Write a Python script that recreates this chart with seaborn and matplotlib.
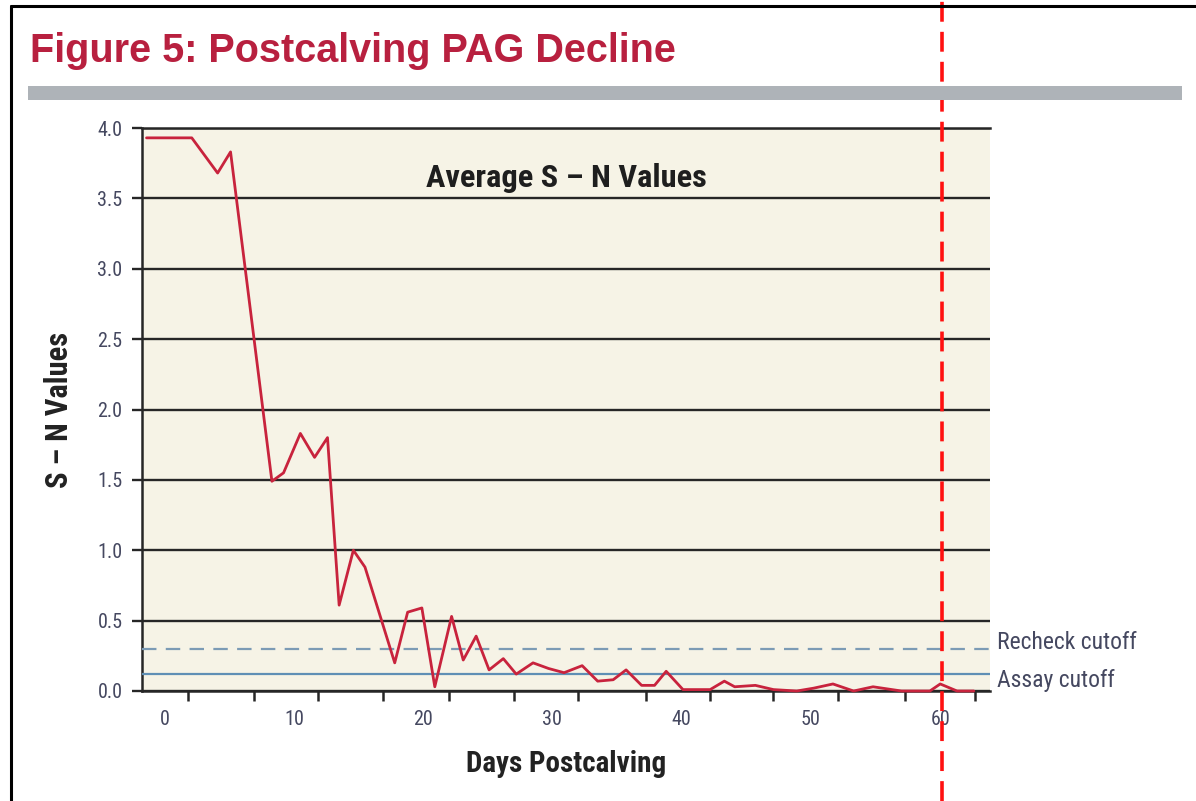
import matplotlib
matplotlib.use("Agg")
import matplotlib.pyplot as plt
import matplotlib.transforms as mtransforms
from matplotlib.lines import Line2D
from matplotlib.patches import Rectangle
from matplotlib import font_manager
import seaborn as sns
import pandas as pd

# ---------------- data ----------------
days = [-1.4, 2.1, 4.1, 5.1, 8.3, 9.2, 10.5, 11.6, 12.6, 13.5, 14.6, 15.5,
        17.8, 18.8, 19.9, 20.9, 22.2, 23.1, 24.1, 25.1, 26.2, 27.2, 28.5,
        29.7, 30.9, 32.3, 33.5, 34.7, 35.7, 36.9, 37.9, 38.8, 40.1, 42.2,
        43.3, 44.1, 45.7, 47.1, 48.9, 50.2, 51.7, 53.3, 54.8, 57.0, 59.2,
        60.0, 61.3, 62.6]
sn_values = [3.93, 3.93, 3.68, 3.83, 1.49, 1.55, 1.83, 1.66, 1.80, 0.61, 1.00,
             0.88, 0.20, 0.56, 0.59, 0.03, 0.53, 0.22, 0.39, 0.15, 0.23, 0.12,
             0.20, 0.16, 0.13, 0.18, 0.07, 0.08, 0.15, 0.04, 0.04, 0.14, 0.01,
             0.01, 0.07, 0.03, 0.04, 0.01, 0.00, 0.02, 0.05, 0.00, 0.03, 0.00,
             0.00, 0.05, 0.00, 0.00]
recheck_cutoff = 0.30
assay_cutoff = 0.12
marker_day = 60.1
x_label_ticks = [0, 10, 20, 30, 40, 50, 60]
x_mark_ticks = [1.8, 6.9, 11.9, 16.9, 22.0, 27.0, 32.0, 37.2, 42.2, 47.1,
                52.1, 57.3, 62.7]
y_ticks = [0.0, 0.5, 1.0, 1.5, 2.0, 2.5, 3.0, 3.5, 4.0]
y_tick_labels = ["0.0", "0.5", "1.0", "1.5", "2.0", "2.5", "3.0", "3.5", "4.0"]

title = "Figure 5: Postcalving PAG Decline"
inner_title = "Average S – N Values"
x_title = "Days Postcalving"
y_title = "S – N Values"

df = pd.DataFrame({"day": days, "sn": sn_values})

# ---------------- style ----------------
sns.set_theme(style="white")
installed = {f.name for f in font_manager.fontManager.ttflist}
narrow_pref = ["Roboto Condensed", "Liberation Sans Narrow", "Open Sans Condensed",
               "DejaVu Sans Condensed"]
narrow_found = [f for f in narrow_pref if f in installed]
HAS_NARROW = len(narrow_found) > 0
NARROW = (narrow_found[:1] if HAS_NARROW else []) + ["Liberation Sans", "DejaVu Sans"]
k = 1.0 if HAS_NARROW else 0.88   # shrink wide fallback to keep text widths
plt.rcParams["font.family"] = ["Liberation Sans", "DejaVu Sans"]

W, H = 1196, 801
fig = plt.figure(figsize=(W / 100, H / 100), dpi=100)
fig.patch.set_facecolor("white")

L, R, T, B = 142, 990, 128, 691
ax = fig.add_axes([L / W, (H - B) / H, (R - L) / W, (B - T) / H])
ax.set_facecolor("#f6f3e6")

grid_col = "#262626"
sns.lineplot(data=df, x="day", y="sn", ax=ax, color="#c8233d", linewidth=2.0,
             zorder=4, clip_on=False)

ax.axhline(recheck_cutoff, color="#7c9bb5", linewidth=1.6,
           dashes=(6.5, 4.2), zorder=3)
ax.axhline(assay_cutoff, color="#5f8fb5", linewidth=1.6, zorder=3)

ax.set_xlim(-1.75, 63.85)
ax.set_ylim(0, 4.0)

ax.set_yticks(y_ticks)
ax.set_yticklabels(y_tick_labels, family=NARROW, fontsize=14.5 * k, color="#454860")
ax.yaxis.grid(True, color=grid_col, linewidth=1.7)
ax.set_axisbelow(True)
ax.tick_params(axis="y", which="major", left=True, length=7, width=1.7,
               color=grid_col, pad=7)

ax.set_xticks(x_label_ticks)
ax.set_xticklabels([str(v) for v in x_label_ticks], family=NARROW,
                   fontsize=14.5 * k, color="#454860")
ax.tick_params(axis="x", which="major", bottom=True, length=0, pad=14)
ax.set_xticks(x_mark_ticks, minor=True)
ax.tick_params(axis="x", which="minor", bottom=True, length=7, width=1.8,
               color=grid_col)

ax.spines["right"].set_visible(False)
for s in ["left", "bottom", "top"]:
    ax.spines[s].set_visible(True)
    ax.spines[s].set_color(grid_col)
    ax.spines[s].set_linewidth(1.8)

ax.set_xlabel(x_title, family=NARROW, fontsize=21 * k, fontweight="bold",
              color="#222222", labelpad=15)
ax.set_ylabel(y_title, family=NARROW, fontsize=22 * k, fontweight="bold",
              color="#222222", labelpad=17)

ax.text(0.50, 0.911, inner_title, transform=ax.transAxes, ha="center",
        va="center", family=NARROW, fontsize=23.3 * k, fontweight="bold",
        color="#1e1e1e")

# cutoff labels to the right
bt = mtransforms.blended_transform_factory(ax.transAxes, ax.transData)
ax.text(1.008, recheck_cutoff + 0.045, "Recheck cutoff", transform=bt,
        ha="left", va="center", family=NARROW, fontsize=17 * k, color="#454860",
        clip_on=False)
ax.text(1.008, assay_cutoff - 0.045, "Assay cutoff", transform=bt,
        ha="left", va="center", family=NARROW, fontsize=17 * k, color="#454860",
        clip_on=False)

# red vertical dashed marker spanning whole figure
vt = mtransforms.blended_transform_factory(ax.transData, fig.transFigure)
ax.add_line(Line2D([marker_day, marker_day], [0, 1], transform=vt,
                   color="#ff1010", linewidth=2.6, dashes=(5.5, 2.8),
                   clip_on=False, zorder=10))

# figure title, gray band, frame
fig.text(30 / W, 1 - 62 / H, title, ha="left", va="baseline",
         fontsize=28.5, fontweight="bold", color="#b8203f",
         family=["Liberation Sans", "DejaVu Sans"])
fig.patches.append(Rectangle((28 / W, 1 - 100 / H), (1182 - 28) / W, 14 / H,
                             transform=fig.transFigure, facecolor="#aeb3b8",
                             edgecolor="none"))
fig.lines.append(Line2D([11 / W, 11 / W], [0, 1 - 6 / H],
                        transform=fig.transFigure, color="black",
                        linewidth=2.2))
fig.lines.append(Line2D([11 / W, 1], [1 - 6 / H, 1 - 6 / H],
                        transform=fig.transFigure, color="black",
                        linewidth=2.2))

fig.savefig("out.png", dpi=100)
